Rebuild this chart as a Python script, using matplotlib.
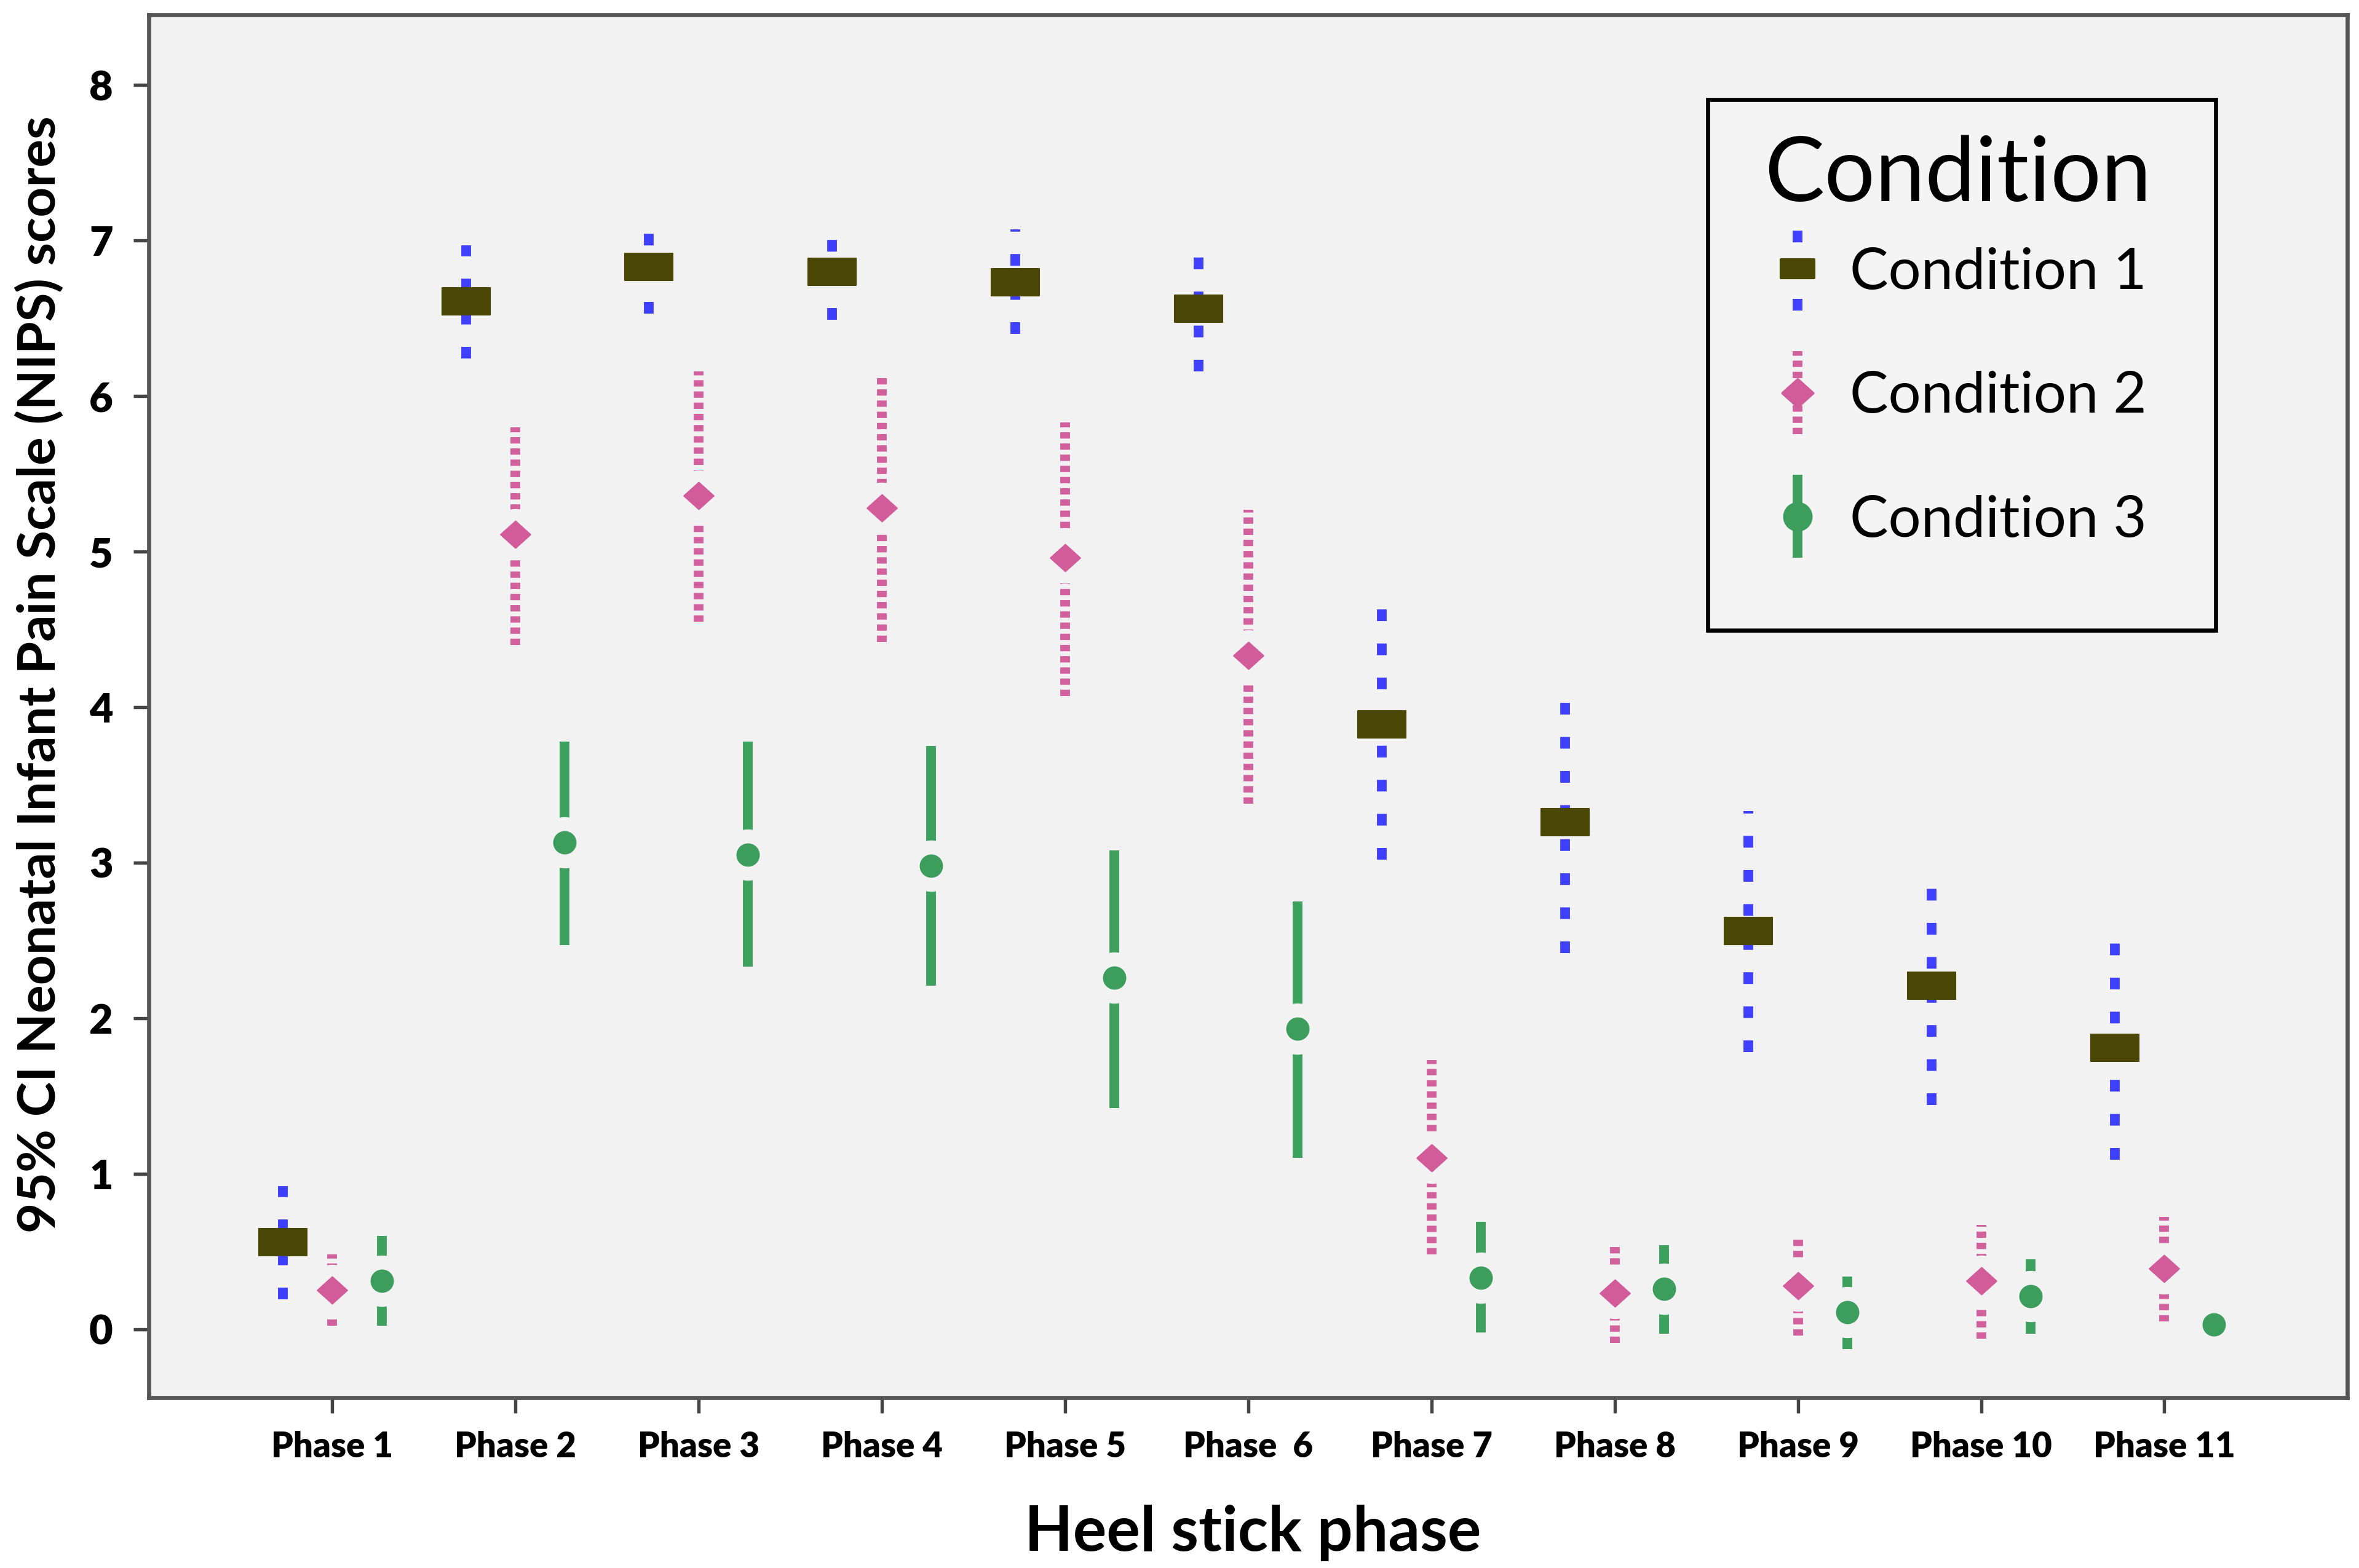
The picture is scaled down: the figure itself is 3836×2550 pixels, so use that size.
import matplotlib
matplotlib.use('Agg')
import matplotlib.pyplot as plt
import numpy as np
from matplotlib.path import Path
from matplotlib.patches import Rectangle
from matplotlib.container import ErrorbarContainer
from matplotlib.legend_handler import HandlerErrorbar

plt.rcParams['font.family'] = ['Lato', 'DejaVu Sans']

# ---------------- data ----------------
phases = ['Phase 1', 'Phase 2', 'Phase 3', 'Phase 4', 'Phase 5', 'Phase  6',
          'Phase 7', 'Phase 8', 'Phase 9', 'Phase 10', 'Phase 11']
conditions = ['Condition 1', 'Condition 2', 'Condition 3']

c1_mean = [0.56, 6.61, 6.83, 6.80, 6.73, 6.56, 3.89, 3.26, 2.56, 2.21, 1.81]
c1_low  = [0.19, 6.24, 6.53, 6.49, 6.40, 6.16, 3.02, 2.42, 1.78, 1.44, 1.09]
c1_high = [0.92, 6.97, 7.12, 7.10, 7.07, 6.95, 4.74, 4.09, 3.33, 2.97, 2.54]

c2_mean = [0.25, 5.11, 5.36, 5.28, 4.96, 4.33, 1.10, 0.23, 0.28, 0.31, 0.39]
c2_low  = [0.02, 4.40, 4.55, 4.42, 4.07, 3.38, 0.48, -0.09, -0.04, -0.06, 0.05]
c2_high = [0.48, 5.80, 6.16, 6.14, 5.83, 5.27, 1.73, 0.55, 0.60, 0.67, 0.72]

c3_mean = [0.31, 3.13, 3.05, 2.98, 2.26, 1.93, 0.33, 0.26, 0.11, 0.21, 0.03]
c3_low  = [0.02, 2.47, 2.33, 2.21, 1.42, 1.10, -0.02, -0.03, -0.13, -0.03, 0.03]
c3_high = [0.60, 3.78, 3.78, 3.75, 3.08, 2.75, 0.69, 0.54, 0.34, 0.45, 0.03]

# ---------------- styles ----------------
BG = '#f2f2f2'
rect_marker = Path([(-1, -0.55), (1, -0.55), (1, 0.55), (-1, 0.55), (-1, -0.55)],
                   [Path.MOVETO, Path.LINETO, Path.LINETO, Path.LINETO, Path.CLOSEPOLY])
diam_marker = Path([(0, 0.9), (1, 0), (0, -0.9), (-1, 0), (0, 0.9)],
                   [Path.MOVETO, Path.LINETO, Path.LINETO, Path.LINETO, Path.CLOSEPOLY])

series = [
    dict(mean=c1_mean, low=c1_low, high=c1_high, off=-0.27, ecolor='#3f3fff',
         mcolor='#4a4604', marker=rect_marker, ms=18.8, lms=13.0, ls=(0, (1.2, 2.3)), halo=False),
    dict(mean=c2_mean, low=c2_low, high=c2_high, off=0.0, ecolor='#d2609c',
         mcolor='#d25c99', marker=diam_marker, ms=11.7, lms=12.0, ls=(0, (0.65, 0.5)), halo=True),
    dict(mean=c3_mean, low=c3_low, high=c3_high, off=0.27, ecolor='#3da05d',
         mcolor='#3c9d5c', marker='o', ms=8.6, lms=10.5, ls='solid', halo=True),
]

fig = plt.figure(figsize=(3837 / 300, 2550 / 300), dpi=300)
ax = fig.add_axes([0.0631, 0.1087, 0.9318, 0.8817])
ax.set_facecolor(BG)

x = np.arange(1, len(phases) + 1)
handles = []
for s, name in zip(series, conditions):
    m = np.array(s['mean'])
    yerr = np.vstack([m - np.array(s['low']), np.array(s['high']) - m])
    xs = x + s['off']
    eb = ax.errorbar(xs, m, yerr=yerr, fmt='none', ecolor=s['ecolor'],
                     elinewidth=3.8, capsize=0, zorder=2)
    eb[2][0].set_linestyle(s['ls'])
    eb[2][0].set_capstyle('butt')
    if s['halo']:
        ax.plot(xs, m, linestyle='none', marker='o', markersize=20,
                markerfacecolor=BG, markeredgecolor='none', zorder=3)
    ax.plot(xs, m, linestyle='none', marker=s['marker'], markersize=s['ms'],
            markerfacecolor=s['mcolor'], markeredgecolor=s['mcolor'],
            markeredgewidth=0.5, zorder=4)
    # legend proxy
    h = ax.errorbar([np.nan], [np.nan], yerr=[[0.1], [0.1]], fmt='none',
                    ecolor=s['ecolor'], elinewidth=3.8, capsize=0)
    h[2][0].set_linestyle(s['ls'])
    line = ax.plot([np.nan], [np.nan], linestyle='none', marker=s['marker'],
                   markersize=s['lms'], markerfacecolor=s['mcolor'],
                   markeredgecolor=s['mcolor'])[0]
    handles.append(ErrorbarContainer((line, (), h[2]), has_xerr=False, has_yerr=True,
                                     label=name))

ax.set_xlim(0, 12)
ax.set_ylim(-0.44, 8.45)
ax.set_xticks(x)
ax.set_xticklabels(phases, fontsize=13.5, fontweight='heavy')
ax.set_yticks(range(0, 9))
ax.set_yticklabels([str(v) for v in range(0, 9)], fontsize=16, fontweight='heavy')
ax.tick_params(axis='both', direction='out', length=6, width=1.3, color='#444444',
               labelcolor='black')
ax.tick_params(axis='x', pad=7)
ax.tick_params(axis='y', pad=8)
for sp in ax.spines.values():
    sp.set_color('#555555')
    sp.set_linewidth(1.6)

ax.set_xlabel('Heel stick phase', fontsize=24.5, fontweight='bold', va='center')
ax.xaxis.set_label_coords(0.502, -0.098)
ax.set_ylabel('95% CI Neonatal Infant Pain Scale (NIPS) scores', fontsize=20.5,
              fontweight='bold', va='center', ha='center')
ax.yaxis.set_label_coords(-0.050, 0.523)

# legend frame box
ax.add_patch(Rectangle((0.709, 0.555), 0.231, 0.384, transform=ax.transAxes,
                       facecolor='#f4f4f4', edgecolor='black', linewidth=1.6,
                       zorder=5))
leg = ax.legend(handles=handles, title='Condition', loc='upper center',
                bbox_to_anchor=(0.8227, 0.934), fontsize=22.5, title_fontsize=35,
                frameon=False, borderpad=0, labelspacing=1.25,
                handlelength=1.0, handletextpad=0.4, numpoints=1,
                handler_map={ErrorbarContainer: HandlerErrorbar(xerr_size=0.5, yerr_size=0.72)})
leg.set_zorder(6)
leg._legend_box.sep = 12

fig.savefig('out.png', dpi=300, facecolor='white')
